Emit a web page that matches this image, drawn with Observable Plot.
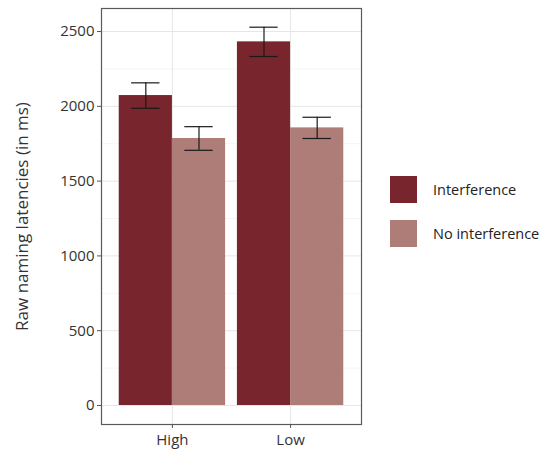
<!DOCTYPE html>
<html>
<head>
<meta charset="utf-8">
<script src="https://cdn.jsdelivr.net/npm/d3@7"></script>
<script src="https://cdn.jsdelivr.net/npm/@observablehq/plot@0.6"></script>
<style>
  html, body { margin: 0; padding: 0; background: #fff; }
  #wrap { position: relative; width: 543px; height: 454px; font-family: "Open Sans", sans-serif; }
  #wrap svg { position: absolute; left: 0; top: 0; }
  .legend { position: absolute; left: 390px; top: 176px; font-size: 14.5px; color: #222; white-space: nowrap; }
  .legend .item { display: flex; align-items: center; height: 27px; margin-bottom: 17px; }
  .legend .sw { width: 27px; height: 27px; margin-right: 16px; }
</style>
</head>
<body>
<div id="wrap"></div>
<script>
// Mean raw naming latencies by frequency group and interference condition
const groups = ["High", "Low"];
const conditions = ["Interference", "No interference"];
const means = [
  [2072, 1785],   // High
  [2431, 1856]    // Low
];
const errors = [
  [85, 79],
  [98, 71]
];
const colors = ["#78252d", "#ae7d78"];
const yTicks = [0, 500, 1000, 1500, 2000, 2500];
const yMinor = [250, 750, 1250, 1750, 2250];

// Dodged layout: groups sit at 1, 2; bars share a 0.9-wide slot
const dodge = 0.9;
const rows = [];
groups.forEach((g, gi) => {
  conditions.forEach((c, ci) => {
    const center = gi + 1;
    const x1 = center - dodge / 2 + ci * dodge / 2;
    rows.push({
      group: g, condition: c,
      x1, x2: x1 + dodge / 2, xm: x1 + dodge / 4,
      mean: means[gi][ci],
      lo: means[gi][ci] - errors[gi][ci],
      hi: means[gi][ci] + errors[gi][ci]
    });
  });
});
const whisker = 0.12;

const chart = Plot.plot({
  width: 543,
  height: 454,
  marginLeft: 101,
  marginRight: 182,
  marginTop: 8,
  marginBottom: 30,
  style: { fontFamily: "Open Sans, sans-serif", fontSize: "15px", color: "#333" },
  x: { type: "linear", domain: [0.4, 2.6], axis: null },
  y: { domain: [-127, 2654], axis: null },
  color: { domain: conditions, range: colors },
  marks: [
    Plot.ruleY(yMinor, { stroke: "#ededed", strokeWidth: 0.6 }),
    Plot.ruleY(yTicks, { stroke: "#e6e6e6", strokeWidth: 1 }),
    Plot.ruleX([1, 2], { stroke: "#e6e6e6", strokeWidth: 1 }),
    Plot.rectY(rows, { x1: "x1", x2: "x2", y1: 0, y2: "mean", fill: "condition" }),
    Plot.ruleX(rows, { x: "xm", y1: "lo", y2: "hi", stroke: "#1a1a1a", strokeWidth: 1.2 }),
    Plot.ruleY(rows, { x1: d => d.xm - whisker, x2: d => d.xm + whisker, y: "hi", stroke: "#1a1a1a", strokeWidth: 1.2 }),
    Plot.ruleY(rows, { x1: d => d.xm - whisker, x2: d => d.xm + whisker, y: "lo", stroke: "#1a1a1a", strokeWidth: 1.2 }),
    Plot.frame({ stroke: "#5a5a5a", strokeWidth: 1.2 }),
    Plot.axisY({
      ticks: yTicks, tickFormat: d3.format("d"), tickSize: 4, tickPadding: 3, stroke: "#555",
      fill: "#333", fontSize: 15, label: null
    }),
    Plot.axisY({
      ticks: [], label: "Raw naming latencies (in ms)", labelAnchor: "center", labelArrow: "none",
      labelOffset: 86, fill: "#333", fontSize: 17
    }),
    Plot.axisX({
      ticks: [1, 2], tickFormat: d => groups[d - 1], tickSize: 4, tickPadding: 6,
      stroke: "#555", fill: "#333", fontSize: 15, label: null
    })
  ]
});

const wrap = document.getElementById("wrap");
wrap.appendChild(chart);

// Legend for the two conditions
const legend = document.createElement("div");
legend.className = "legend";
conditions.forEach((c, i) => {
  const item = document.createElement("div");
  item.className = "item";
  const sw = document.createElement("div");
  sw.className = "sw";
  sw.style.background = colors[i];
  const lab = document.createElement("span");
  lab.textContent = c;
  item.appendChild(sw);
  item.appendChild(lab);
  legend.appendChild(item);
});
wrap.appendChild(legend);
</script>
</body>
</html>
